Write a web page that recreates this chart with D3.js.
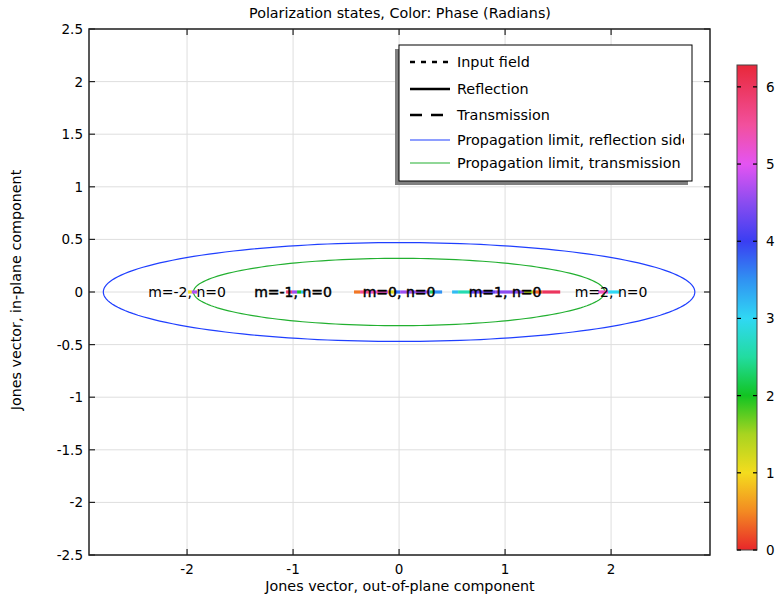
<!DOCTYPE html>
<html><head><meta charset="utf-8">
<script src="https://cdn.jsdelivr.net/npm/d3@7"></script>
<style>body{margin:0;background:#fff}svg{font-family:"DejaVu Sans",sans-serif}</style>
</head><body>
<svg id="c" width="775" height="598"></svg>
<script>
// ---- data ----
const xTicks = [-2, -1, 0, 1, 2];
const yTicks = [-2.5, -2, -1.5, -1, -0.5, 0, 0.5, 1, 1.5, 2, 2.5];
const cbTicks = [0, 1, 2, 3, 4, 5, 6];
const orders = [-2, -1, 0, 1, 2];
const orderLabels = ["m=-2, n=0", "m=-1, n=0", "m=0, n=0", "m=1, n=0", "m=2, n=0"];
const boldLabel = [false, true, true, true, false];
// polarization-state pieces: [x start, x end, phase]
const pieceX0 = [-1.99, -1.955, -1.066, -1.01, -0.962, -0.925, -0.425, -0.368, -0.29, -0.104, -0.047, 0.01, 0.29, 0.33, 0.50, 0.557, 0.67, 0.906, 1.18, 1.264, 1.35, 1.877, 1.972];
const pieceX1 = [-1.955, -1.905, -1.01, -0.962, -0.925, -0.896, -0.368, -0.29, -0.104, -0.047, 0.01, 0.29, 0.33, 0.406, 0.557, 0.67, 0.906, 1.18, 1.264, 1.35, 1.52, 1.972, 2.08];
const piecePhase = [1.0, 4.7, 5.8, 4.6, 2.0, 3.2, 0.4, 5.6, 5.3, 1.1, 3.7, 4.6, 2.3, 3.5, 3.2, 2.6, 4.3, 4.5, 1.4, 0.3, 6.0, 5.3, 3.0];
// propagation limits (semi-axes)
const limitNames = ["Propagation limit, reflection side", "Propagation limit, transmission"];
const limitA = [2.79, 1.94];
const limitB = [0.47, 0.32];
const limitColors = ["#1f3fff", "#22b030"];
const legendNames = ["Input field", "Reflection", "Transmission"];
const legendDash = ["5,6", null, "12,9"];
// cyclic colormap stops
const cmapPos = [0, 0.5, 1, 1.5, 2, 2.5, 3, 3.5, 4, 4.5, 5, 5.5, 6.283];
const cmapCol = ["#e8262a", "#f38a22", "#f4dc1e", "#a8d420", "#12c422", "#22dca0", "#30d8f4", "#3092f2", "#3a3ef2", "#8a4cf0", "#e454f2", "#f2509e", "#e8283a"];

// ---- layout ----
const svg = d3.select("#c");
const L = 89, R = 710, T = 29, B = 555;
const x = d3.scaleLinear().domain([-2.925, 2.933]).range([L, R]);
const y = d3.scaleLinear().domain([-2.5, 2.5]).range([B, T]);
const cmap = d3.scaleLinear().domain(cmapPos).range(cmapCol);

// grid
svg.append("g").selectAll("line").data(xTicks).join("line")
  .attr("x1", d => x(d)).attr("x2", d => x(d)).attr("y1", T).attr("y2", B)
  .attr("stroke", "#dedede").attr("stroke-width", 1);
svg.append("g").selectAll("line").data(yTicks).join("line")
  .attr("x1", L).attr("x2", R).attr("y1", d => y(d)).attr("y2", d => y(d))
  .attr("stroke", "#dedede").attr("stroke-width", 1);

// ellipses
const tParam = d3.range(0, 361, 2).map(d => d * Math.PI / 180);
limitA.forEach((a, i) => {
  const line = d3.line().x(t => x(a * Math.cos(t))).y(t => y(limitB[i] * Math.sin(t)));
  svg.append("path").attr("d", line(tParam)).attr("fill", "none")
    .attr("stroke", limitColors[i]).attr("stroke-width", 1.2);
});

// polarization state pieces
svg.append("g").selectAll("line").data(pieceX0).join("line")
  .attr("x1", (d) => x(d)).attr("x2", (d, i) => x(pieceX1[i]))
  .attr("y1", y(0)).attr("y2", y(0))
  .attr("stroke", (d, i) => cmap(piecePhase[i])).attr("stroke-width", 3.2);

// order labels
svg.append("g").selectAll("text").data(orders).join("text")
  .attr("x", d => x(d)).attr("y", y(0) + 5).attr("text-anchor", "middle")
  .attr("font-size", 14).attr("fill", "#000")
  .attr("stroke", (d, i) => boldLabel[i] ? "#000" : "none").attr("stroke-width", 0.45)
  .text((d, i) => orderLabels[i]);

// axes frame + ticks
const ax = svg.append("g");
ax.append("rect").attr("x", L).attr("y", T).attr("width", R - L).attr("height", B - T)
  .attr("fill", "none").attr("stroke", "#222").attr("stroke-width", 1.5);
xTicks.forEach(d => {
  ax.append("line").attr("x1", x(d)).attr("x2", x(d)).attr("y1", B).attr("y2", B - 6).attr("stroke", "#222").attr("stroke-width", 1.2);
  ax.append("line").attr("x1", x(d)).attr("x2", x(d)).attr("y1", T).attr("y2", T + 6).attr("stroke", "#222").attr("stroke-width", 1.2);
  ax.append("text").attr("x", x(d)).attr("y", B + 19).attr("text-anchor", "middle").attr("font-size", 13.5).text(d);
});
yTicks.forEach(d => {
  ax.append("line").attr("x1", L).attr("x2", L + 6).attr("y1", y(d)).attr("y2", y(d)).attr("stroke", "#222").attr("stroke-width", 1.2);
  ax.append("line").attr("x1", R).attr("x2", R - 6).attr("y1", y(d)).attr("y2", y(d)).attr("stroke", "#222").attr("stroke-width", 1.2);
  ax.append("text").attr("x", L - 6).attr("y", y(d) + 5).attr("text-anchor", "end").attr("font-size", 13.5).text(d);
});

// titles
svg.append("text").attr("x", 400).attr("y", 18).attr("text-anchor", "middle").attr("font-size", 14.3).text("Polarization states, Color: Phase (Radians)");
svg.append("text").attr("x", 400).attr("y", 591).attr("text-anchor", "middle").attr("font-size", 14.3).text("Jones vector, out-of-plane component");
svg.append("text").attr("transform", "translate(21,290) rotate(-90)").attr("text-anchor", "middle").attr("font-size", 14.3).text("Jones vector, in-plane component");

// legend
const lg = svg.append("g");
const LX = 399, LY = 45, LW = 293, LH = 136;
lg.append("rect").attr("x", LX - 4).attr("y", LY + 4).attr("width", LW).attr("height", LH).attr("fill", "#808080");
lg.append("rect").attr("x", LX).attr("y", LY).attr("width", LW).attr("height", LH).attr("fill", "#fff").attr("stroke", "#000").attr("stroke-width", 1);
svg.append("clipPath").attr("id", "lgclip").append("rect").attr("x", LX).attr("y", LY).attr("width", LW - 8).attr("height", LH);
const rowsY = [62, 89, 115, 140, 163];
legendNames.forEach((n, i) => {
  lg.append("line").attr("x1", 410).attr("x2", 450).attr("y1", rowsY[i]).attr("y2", rowsY[i])
    .attr("stroke", "#000").attr("stroke-width", 2.6).attr("stroke-dasharray", legendDash[i]);
  lg.append("text").attr("x", 457).attr("y", rowsY[i] + 5).attr("font-size", 14.4).text(n);
});
limitNames.forEach((n, i) => {
  const yy = rowsY[3 + i];
  lg.append("line").attr("x1", 410).attr("x2", 450).attr("y1", yy).attr("y2", yy)
    .attr("stroke", limitColors[i]).attr("stroke-width", 1.2);
  lg.append("text").attr("x", 457).attr("y", yy + 5).attr("font-size", 14.4).attr("clip-path", "url(#lgclip)").text(n);
});

// colorbar
const CX = 737, CW = 20, CT = 65, CB = 550;
const cy = d3.scaleLinear().domain([0, 2 * Math.PI]).range([CB, CT]);
const defs = svg.append("defs");
const grad = defs.append("linearGradient").attr("id", "cg").attr("x1", 0).attr("y1", 1).attr("x2", 0).attr("y2", 0);
cmapPos.forEach((p, i) => grad.append("stop").attr("offset", p / (2 * Math.PI)).attr("stop-color", cmapCol[i]));
svg.append("rect").attr("x", CX).attr("y", CT).attr("width", CW).attr("height", CB - CT)
  .attr("fill", "url(#cg)").attr("stroke", "#444").attr("stroke-width", 1);
cbTicks.forEach(d => {
  svg.append("line").attr("x1", CX).attr("x2", CX + 4).attr("y1", cy(d)).attr("y2", cy(d)).attr("stroke", "#000").attr("stroke-width", 1.2);
  svg.append("line").attr("x1", CX + CW - 4).attr("x2", CX + CW).attr("y1", cy(d)).attr("y2", cy(d)).attr("stroke", "#000").attr("stroke-width", 1.2);
  svg.append("text").attr("x", CX + CW + 9).attr("y", cy(d) + 5).attr("font-size", 13.5).text(d);
});
</script>
</body></html>
